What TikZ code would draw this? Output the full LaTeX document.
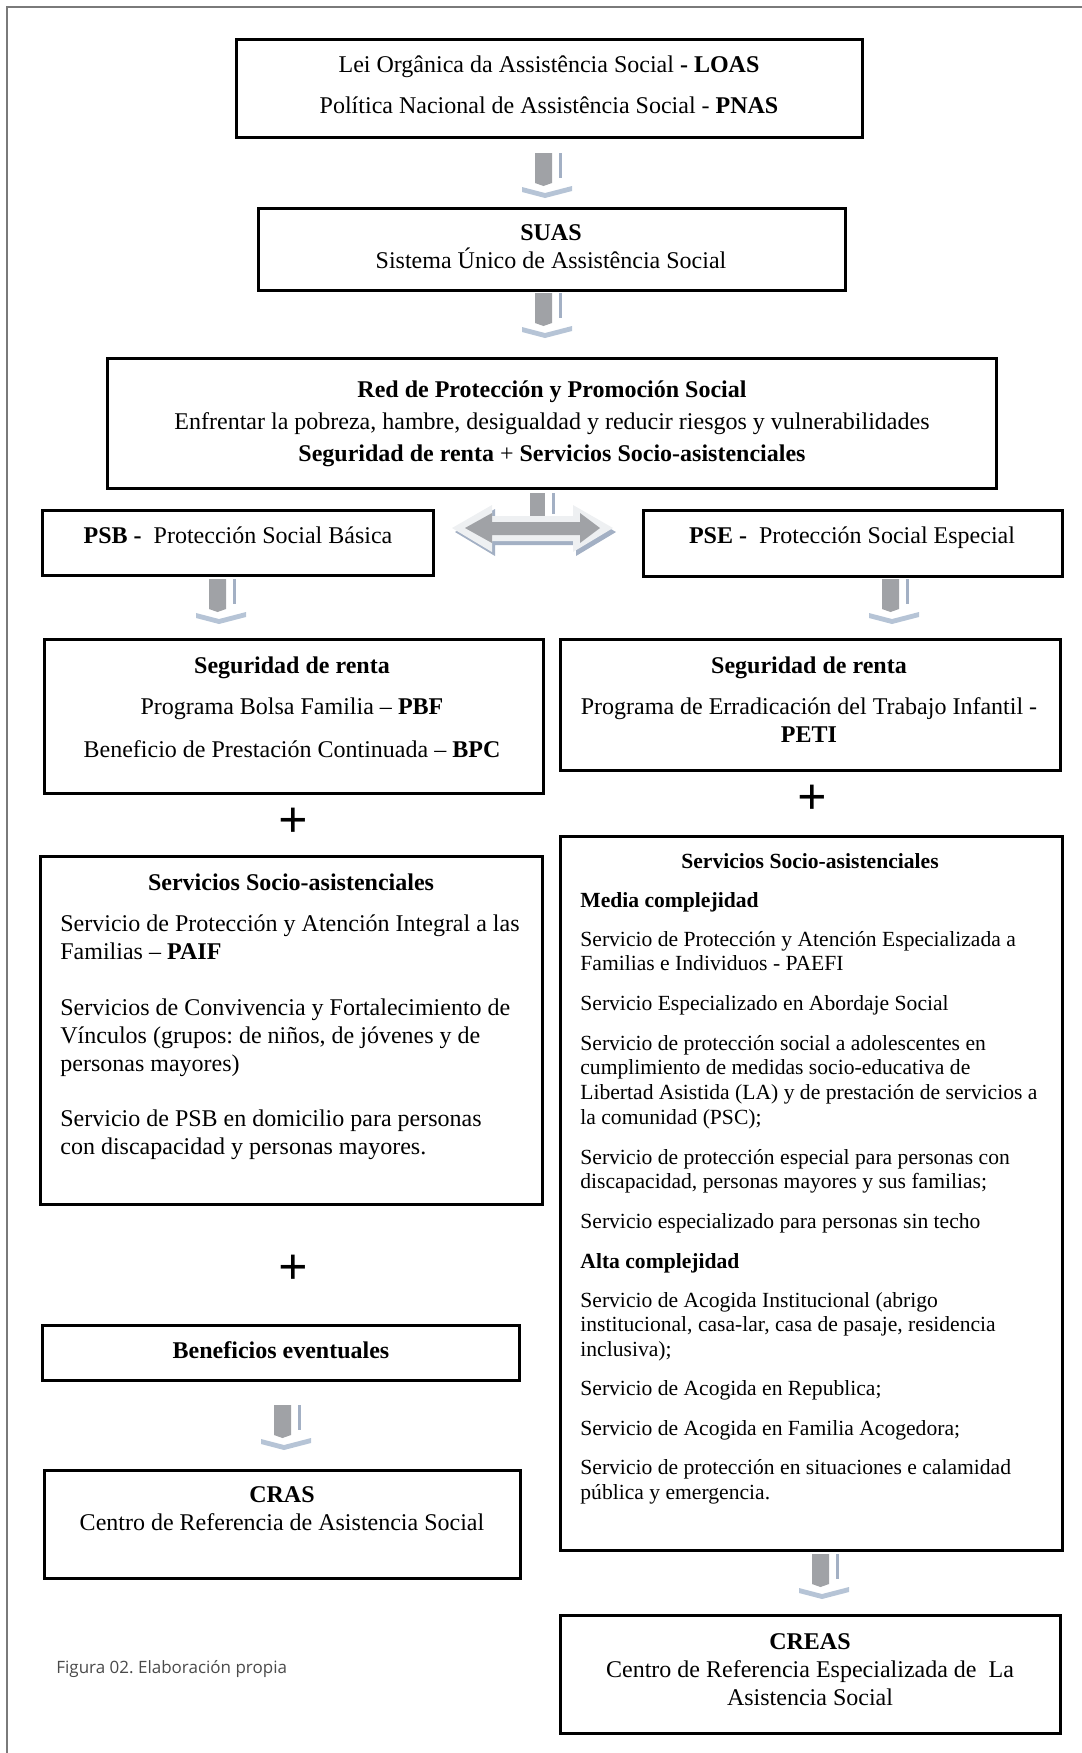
\documentclass[tikz,border=0pt]{standalone}
\usepackage{fontspec}
\setmainfont{Liberation Serif}
\newfontfamily\capfont{Open Sans}
\usetikzlibrary{fit}
\definecolor{framegray}{HTML}{7A7A7A}
\definecolor{shaft}{HTML}{A0A2A6}
\definecolor{stripe}{HTML}{A3B0C4}
\definecolor{chev}{HTML}{B6C4D6}
\definecolor{pale}{HTML}{EEF0F2}
\definecolor{capgray}{HTML}{4A4A4A}

\tikzset{
  box/.style={draw,line width=1.5pt,inner sep=0pt},
  lbl/.style={inner sep=0pt,font=\fontsize{12}{14.5}\selectfont,
    text height=11.5pt,text depth=3.2pt},
  item/.style={lbl,anchor=west},
  itemR/.style={inner sep=0pt,anchor=west,font=\fontsize{10.8}{13}\selectfont,
    text height=10.5pt,text depth=2.5pt},
  plus/.style={inner sep=0pt,font=\fontsize{26}{26}\selectfont\bfseries}
}

% grey block arrow pointing down, #1 = centre of its top
\newcommand{\blockdown}[1]{%
  \begin{scope}[shift={(#1)}]
    \fill[shaft] (-12,0) -- (5,0) -- (5,30) -- (-3.5,33) -- (-12,30) -- cycle;
    \fill[stripe] (12,0) rectangle (14.5,25);
    \fill[chev] (-25,34) -- (-2,40) -- (25,33) -- (25,38) -- (-2,45)
      -- (-25,39) -- cycle;
  \end{scope}}

\begin{document}
\frenchspacing
\begin{tikzpicture}[x=0.5pt,y=-0.5pt]
  \useasboundingbox (0,0) rectangle (1082,1753);
  \draw[framegray,line width=1pt] (7,1753) -- (7,7) -- (1082,7);

  % top of the chain
  \node[box,fit={(236,39) (862,137)}] (loas) {};
  \node[lbl] (loas1) at (549,64)
    {Lei Orgânica da Assistência Social \textbf{- LOAS}};
  \node[lbl] (loas2) at (549,105)
    {Política Nacional de Assistência Social - \textbf{PNAS}};
  \blockdown{547,153}

  \node[box,fit={(258,208) (845,290)}] (suas) {};
  \node[lbl] (suas1) at (551,232) {\textbf{SUAS}};
  \node[lbl] (suas2) at (551,260) {Sistema Único de Assistência Social};
  \blockdown{547,293}

  \node[box,fit={(107,358) (996,488)}] (red) {};
  \node[lbl] (red1) at (552,389) {\textbf{Red de Protección y Promoción Social}};
  \node[lbl] (red2) at (552,421)
    {Enfrentar la pobreza, hambre, desigualdad y reducir riesgos y vulnerabilidades};
  \node[lbl] (red3) at (552,453)
    {\textbf{Seguridad de renta} + \textbf{Servicios Socio-asistenciales}};

  % split into PSB and PSE
  \fill[shaft] (530,493) rectangle (545,516);
  \fill[stripe] (552,493) rectangle (554.5,514);
  \fill[stripe] (455,532) -- (495,509) -- (495,520) -- (576,520) -- (576,509)
    -- (616,532) -- (576,556) -- (576,545) -- (495,545) -- (495,556) -- cycle;
  \fill[pale] (452,528) -- (492,505) -- (492,516) -- (573,516) -- (573,505)
    -- (613,528) -- (573,552) -- (573,541) -- (492,541) -- (492,552) -- cycle;
  \fill[shaft] (465,528) -- (492,513) -- (492,522) -- (580,522) -- (580,513)
    -- (600,528) -- (580,543) -- (580,535) -- (492,535) -- (492,543) -- cycle;

  \node[box,fit={(42,510) (433,575)}] (psb) {};
  \node[lbl] (psb1) at (238,535) {\textbf{PSB -}\ \ Protección Social Básica};
  \node[box,fit={(643,510) (1062,576)}] (pse) {};
  \node[lbl] (pse1) at (852,535) {\textbf{PSE -}\ \ Protección Social Especial};
  \blockdown{221,579}
  \blockdown{894,579}

  % left column
  \node[box,fit={(44,639) (543,793)}] (segL) {};
  \node[lbl] (segL1) at (292,665) {\textbf{Seguridad de renta}};
  \node[lbl] (segL2) at (292,706) {Programa Bolsa Familia – \textbf{PBF}};
  \node[lbl] (segL3) at (292,749) {Beneficio de Prestación Continuada – \textbf{BPC}};
  \node[plus] (plusL1) at (293,823) {+};

  \node[box,fit={(40,856) (542,1204)}] (servL) {};
  \node[lbl] (servL0) at (291,882) {\textbf{Servicios Socio-asistenciales}};
  \foreach \yy/\txt in {
      923/{Servicio de Protección y Atención Integral a las},
      951/{Familias – \textbf{PAIF}},
      1007/{Servicios de Convivencia y Fortalecimiento de},
      1035/{Vínculos (grupos: de niños, de jóvenes y de},
      1063/{personas mayores)},
      1118/{Servicio de PSB en domicilio para personas},
      1146/{con discapacidad y personas mayores.}}
    \node[item] (servL\yy) at (60,\yy) {\txt};
  \node[plus] (plusL2) at (293,1270) {+};

  \node[box,fit={(42,1325) (519,1380)}] (benef) {};
  \node[lbl] (benef1) at (281,1350) {\textbf{Beneficios eventuales}};
  \blockdown{286,1405}

  \node[box,fit={(44,1470) (520,1578)}] (cras) {};
  \node[lbl] (cras1) at (282,1494) {\textbf{CRAS}};
  \node[lbl] (cras2) at (282,1522) {Centro de Referencia de Asistencia Social};

  % right column
  \node[box,fit={(560,639) (1060,770)}] (segR) {};
  \node[lbl] (segR1) at (809,665) {\textbf{Seguridad de renta}};
  \node[lbl] (segR2) at (809,706) {Programa de Erradicación del Trabajo Infantil -};
  \node[lbl] (segR3) at (809,734) {\textbf{PETI}};
  \node[plus] (plusR) at (812,800) {+};

  \node[box,fit={(560,836) (1062,1550)}] (servR) {};
  \node[itemR,anchor=center] (servR0) at (810,860)
    {\textbf{Servicios Socio-asistenciales}};
  \foreach \yy/\txt in {
      899/{\textbf{Media complejidad}},
      938/{Servicio de Protección y Atención Especializada a},
      962/{Familias e Individuos - PAEFI},
      1002/{Servicio Especializado en Abordaje Social},
      1042/{Servicio de protección social a adolescentes en},
      1066/{cumplimiento de medidas socio-educativa de},
      1091/{Libertad Asistida (LA) y de prestación de servicios a},
      1116/{la comunidad (PSC);},
      1156/{Servicio de protección especial para personas con},
      1180/{discapacidad, personas mayores y sus familias;},
      1220/{Servicio especializado para personas sin techo},
      1260/{\textbf{Alta complejidad}},
      1299/{Servicio de Acogida Institucional (abrigo},
      1323/{institucional, casa-lar, casa de pasaje, residencia},
      1348/{inclusiva);},
      1387/{Servicio de Acogida en Republica;},
      1427/{Servicio de Acogida en Familia Acogedora;},
      1466/{Servicio de protección en situaciones e calamidad},
      1491/{pública y emergencia.}}
    \node[itemR] (servR\yy) at (580,\yy) {\txt};
  \blockdown{824,1554}

  \node[box,fit={(560,1615) (1060,1733)}] (creas) {};
  \node[lbl] (creas1) at (810,1641) {\textbf{CREAS}};
  \node[lbl] (creas2) at (810,1669) {Centro de Referencia Especializada de\ \ La};
  \node[lbl] (creas3) at (810,1697) {Asistencia Social};

  \node[inner sep=0pt,anchor=west,text=capgray,font=\capfont\fontsize{8.5}{10}\selectfont]
    (caption) at (56,1669) {Figura 02. Elaboración propia};
\end{tikzpicture}
\end{document}
